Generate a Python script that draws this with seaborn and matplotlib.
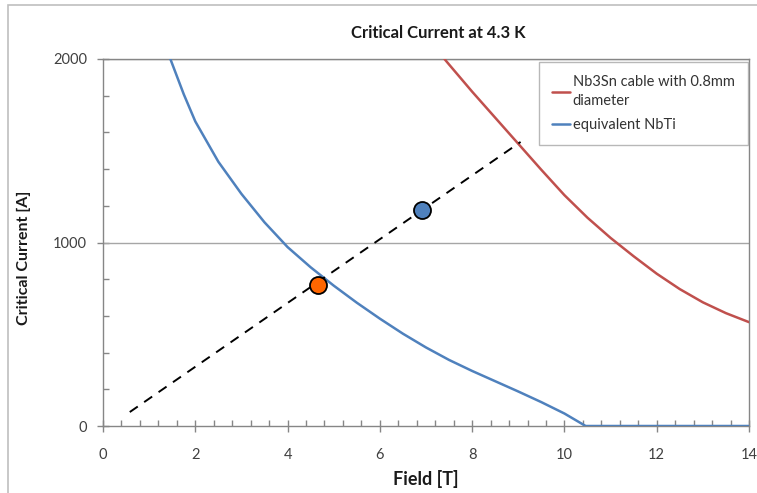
import numpy as np
import pandas as pd
import matplotlib
matplotlib.use("Agg")
import matplotlib.pyplot as plt
import seaborn as sns
from matplotlib.ticker import MultipleLocator
from matplotlib.patches import Rectangle

# ---- data ----
nb3sn_field = [7.4, 7.5, 8.0, 8.5, 9.0, 9.5, 10.0, 10.5, 11.0, 11.5, 12.0, 12.5, 13.0, 13.5, 14.0]
nb3sn_current = [2000, 1970, 1822, 1680, 1538, 1396, 1258, 1135, 1025, 925, 830, 746, 674, 615, 566]

nbti_field = [1.46, 1.75, 2.0, 2.5, 3.0, 3.5, 4.0, 4.5, 5.0, 5.5, 6.0, 6.5, 7.0, 7.5, 8.0,
              8.5, 9.0, 9.5, 10.0, 10.46, 11.0, 12.0, 13.0, 14.0]
nbti_current = [2000, 1808, 1660, 1440, 1265, 1110, 975, 865, 765, 672, 585, 503, 428, 360, 300,
                244, 188, 130, 68, 0, 0, 0, 0, 0]

load_line_field = [0.58, 9.05]
load_line_current = [76, 1548]

point_orange = (4.65, 768)
point_blue = (6.92, 1177)

title = "Critical Current at 4.3 K"
xlabel = "Field [T]"
ylabel = "Critical Current [A]"
series_names = ["Nb3Sn cable with 0.8mm\ndiameter", "equivalent NbTi"]

# ---- styling ----
sns.set_theme(style="white")
plt.rcParams["font.family"] = ["Lato", "DejaVu Sans"]

RED = "#C0504D"
BLUE = "#4F81BD"
GRAY = "#868686"

fig = plt.figure(figsize=(7.57, 4.93), dpi=100)
ax = fig.add_axes([103 / 757, 1 - 426 / 493, (749 - 103) / 757, (426 - 59) / 493])

# outer chart frame
fig.patches.append(Rectangle((8 / 757, -0.05), 1.2, 1 - 5 / 493 + 0.05,
                             transform=fig.transFigure, fill=False,
                             edgecolor="#BFBFBF", linewidth=1.2, zorder=0))

ax.axhline(1000, color="#A6A6A6", lw=1.0, zorder=1)
ax.axhline(2000, color="#A6A6A6", lw=1.0, zorder=1)

df_red = pd.DataFrame({"Field": nb3sn_field, "Current": nb3sn_current})
df_blue = pd.DataFrame({"Field": nbti_field, "Current": nbti_current})

sns.lineplot(data=df_red, x="Field", y="Current", ax=ax, color=RED, lw=1.8,
             label=series_names[0], sort=False, zorder=3)
sns.lineplot(data=df_blue, x="Field", y="Current", ax=ax, color=BLUE, lw=1.8,
             label=series_names[1], sort=False, zorder=3)

ax.plot(load_line_field, load_line_current, color="black", lw=1.4,
        linestyle=(0, (5, 4)), zorder=4)

sns.scatterplot(x=[point_orange[0]], y=[point_orange[1]], ax=ax, color="#FF6600",
                edgecolor="black", linewidth=1.3, s=150, zorder=5, legend=False)
sns.scatterplot(x=[point_blue[0]], y=[point_blue[1]], ax=ax, color="#4F81BD",
                edgecolor="black", linewidth=1.3, s=150, zorder=5, legend=False)

ax.set_xlim(0, 14)
ax.set_ylim(0, 2000)
ax.xaxis.set_major_locator(MultipleLocator(2))
ax.xaxis.set_minor_locator(MultipleLocator(0.4))
ax.yaxis.set_major_locator(MultipleLocator(1000))
ax.yaxis.set_minor_locator(MultipleLocator(200))

ax.tick_params(axis="both", which="major", direction="inout", length=9, width=1,
               color=GRAY, labelsize=10.5, labelcolor="#404040")
ax.tick_params(axis="x", which="major", pad=11)
ax.tick_params(axis="y", which="major", pad=7)
ax.tick_params(axis="both", which="minor", direction="in", length=4, width=1, color=GRAY)
ax.tick_params(axis="x", which="both", bottom=True)
ax.tick_params(axis="y", which="both", left=True)

for sp in ax.spines.values():
    sp.set_color(GRAY)
    sp.set_linewidth(1.0)
    sp.set_visible(True)

ax.set_title(title, fontsize=12, fontweight="bold", color="#1a1a1a", pad=15, x=0.519)
ax.set_xlabel(xlabel, fontsize=13, fontweight="bold", color="#1a1a1a", labelpad=6)
ax.set_ylabel(ylabel, fontsize=11.5, fontweight="bold", color="#1a1a1a", labelpad=22)
ax.yaxis.set_label_coords(-0.112, 0.458)

leg = ax.legend(loc="upper right", bbox_to_anchor=(0.998, 0.992), frameon=True,
                fancybox=False, edgecolor="#A6A6A6", fontsize=10.5,
                handlelength=1.2, handletextpad=0.2, borderpad=0.9,
                labelspacing=0.7, borderaxespad=0.0)
leg.get_frame().set_linewidth(1.0)
for t in leg.get_texts():
    t.set_color("#333333")
    t.set_linespacing(1.45)

fig.savefig("out.png", dpi=100)
